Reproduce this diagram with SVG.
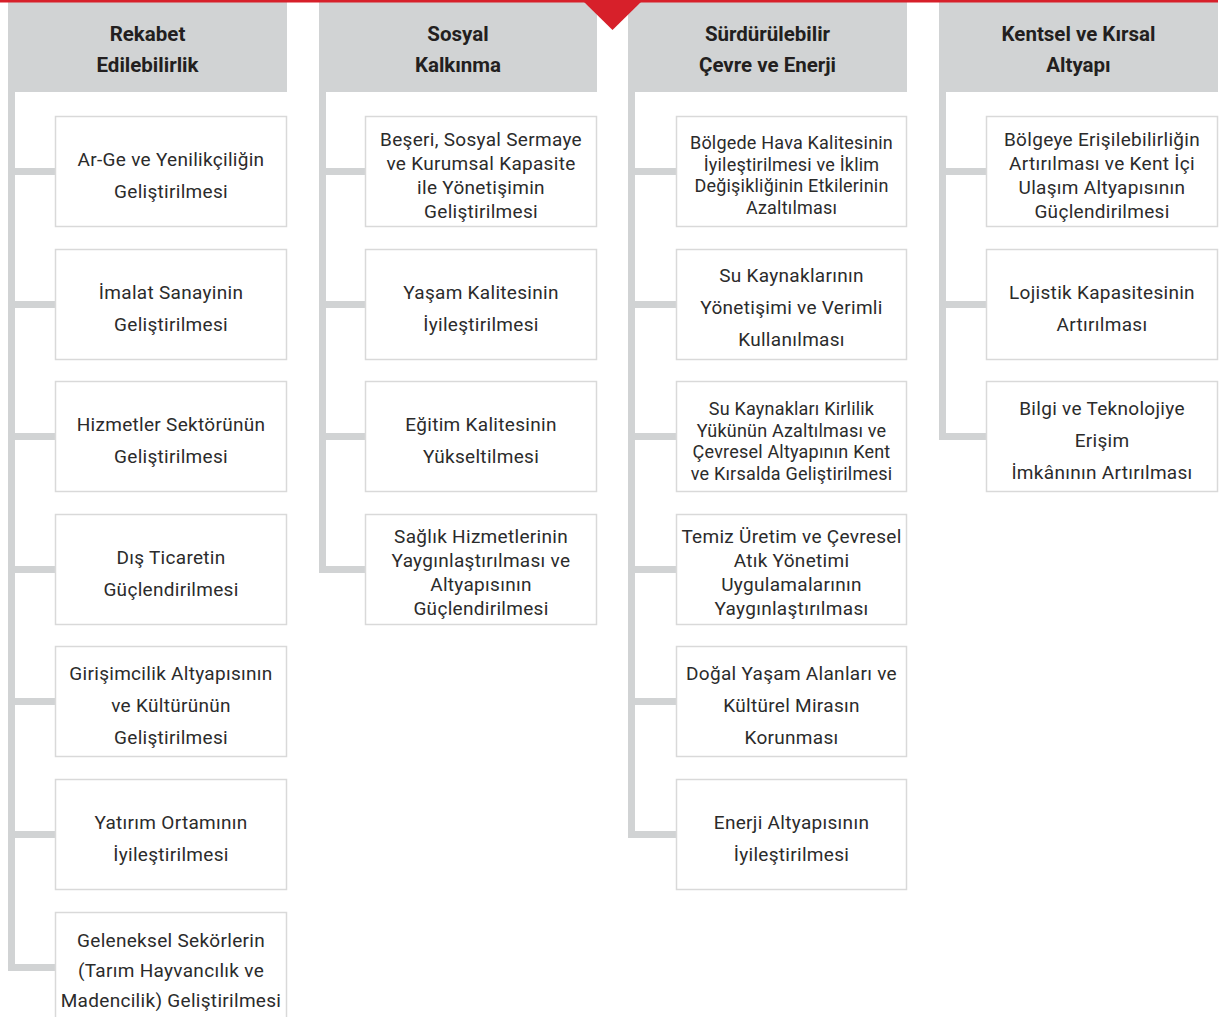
<svg xmlns="http://www.w3.org/2000/svg" width="1229" height="1017" viewBox="0 0 1229 1017">
<style>
.hdr{fill:#d1d3d4}
.bar{fill:#d1d3d4}
.box{fill:#fff;stroke:#d9d9d9;stroke-width:1.5}
.ht{font-family:Roboto,"Liberation Sans",sans-serif;font-weight:700;font-size:20.5px;fill:#231f20;text-anchor:middle}
.t{font-family:Roboto,"Liberation Sans",sans-serif;font-size:19px;fill:#2b2b2b;text-anchor:middle;letter-spacing:0.3px}
.s{font-size:18px;letter-spacing:0.2px}
</style>

<g id="connectors">
<rect class="bar" x="8" y="92" width="7" height="879"/>
<rect class="bar" x="8" y="168" width="47" height="7"/>
<rect class="bar" x="8" y="301" width="47" height="7"/>
<rect class="bar" x="8" y="433" width="47" height="7"/>
<rect class="bar" x="8" y="566" width="47" height="7"/>
<rect class="bar" x="8" y="698" width="47" height="7"/>
<rect class="bar" x="8" y="831" width="47" height="7"/>
<rect class="bar" x="8" y="964" width="47" height="7"/>

<rect class="bar" x="319" y="92" width="7" height="481"/>
<rect class="bar" x="319" y="168" width="46" height="7"/>
<rect class="bar" x="319" y="301" width="46" height="7"/>
<rect class="bar" x="319" y="433" width="46" height="7"/>
<rect class="bar" x="319" y="566" width="46" height="7"/>

<rect class="bar" x="628" y="92" width="7" height="746"/>
<rect class="bar" x="628" y="168" width="48" height="7"/>
<rect class="bar" x="628" y="301" width="48" height="7"/>
<rect class="bar" x="628" y="433" width="48" height="7"/>
<rect class="bar" x="628" y="566" width="48" height="7"/>
<rect class="bar" x="628" y="698" width="48" height="7"/>
<rect class="bar" x="628" y="831" width="48" height="7"/>

<rect class="bar" x="939" y="92" width="7" height="348"/>
<rect class="bar" x="939" y="168" width="47" height="7"/>
<rect class="bar" x="939" y="301" width="47" height="7"/>
<rect class="bar" x="939" y="433" width="47" height="7"/>
</g>

<g id="h1"><rect class="hdr" x="8" y="2" width="279" height="90"/><text class="ht" x="147.5" y="41">Rekabet</text><text class="ht" x="147.5" y="72">Edilebilirlik</text></g>
<g id="h2"><rect class="hdr" x="319" y="2" width="278" height="90"/><text class="ht" x="458" y="41">Sosyal</text><text class="ht" x="458" y="72">Kalkınma</text></g>
<g id="h3"><rect class="hdr" x="628" y="2" width="279" height="90"/><text class="ht" x="767.5" y="41">Sürdürülebilir</text><text class="ht" x="767.5" y="72">Çevre ve Enerji</text></g>
<g id="h4"><rect class="hdr" x="939" y="2" width="279" height="90"/><text class="ht" x="1078.5" y="41">Kentsel ve Kırsal</text><text class="ht" x="1078.5" y="72">Altyapı</text></g>

<rect x="0" y="0" width="1218" height="2.5" fill="#d7202a"/>
<polygon points="583,1 642,1 612.5,30" fill="#d7202a"/>

<!-- column 1 -->
<g id="c1n1"><rect class="box" x="55.5" y="116.5" width="231" height="110"/><text class="t" x="171" y="165.5">Ar-Ge ve Yenilikçiliğin</text><text class="t" x="171" y="197.5">Geliştirilmesi</text></g>
<g id="c1n2"><rect class="box" x="55.5" y="249.5" width="231" height="110"/><text class="t" x="171" y="298.5">İmalat Sanayinin</text><text class="t" x="171" y="330.5">Geliştirilmesi</text></g>
<g id="c1n3"><rect class="box" x="55.5" y="381.5" width="231" height="110"/><text class="t" x="171" y="430.5">Hizmetler Sektörünün</text><text class="t" x="171" y="462.5">Geliştirilmesi</text></g>
<g id="c1n4"><rect class="box" x="55.5" y="514.5" width="231" height="110"/><text class="t" x="171" y="563.5">Dış Ticaretin</text><text class="t" x="171" y="595.5">Güçlendirilmesi</text></g>
<g id="c1n5"><rect class="box" x="55.5" y="646.5" width="231" height="110"/><text class="t" x="171" y="680">Girişimcilik Altyapısının</text><text class="t" x="171" y="712">ve Kültürünün</text><text class="t" x="171" y="744">Geliştirilmesi</text></g>
<g id="c1n6"><rect class="box" x="55.5" y="779.5" width="231" height="110"/><text class="t" x="171" y="828.5">Yatırım Ortamının</text><text class="t" x="171" y="860.5">İyileştirilmesi</text></g>
<g id="c1n7"><rect class="box" x="55.5" y="912.5" width="231" height="120"/><text class="t" x="171" y="947">Geleneksel Sekörlerin</text><text class="t" x="171" y="977">(Tarım Hayvancılık ve</text><text class="t" x="171" y="1007">Madencilik) Geliştirilmesi</text></g>

<!-- column 2 -->
<g id="c2n1"><rect class="box" x="365.5" y="116.5" width="231" height="110"/><text class="t" x="481" y="146">Beşeri, Sosyal Sermaye</text><text class="t" x="481" y="170">ve Kurumsal Kapasite</text><text class="t" x="481" y="194">ile Yönetişimin</text><text class="t" x="481" y="218">Geliştirilmesi</text></g>
<g id="c2n2"><rect class="box" x="365.5" y="249.5" width="231" height="110"/><text class="t" x="481" y="298.5">Yaşam Kalitesinin</text><text class="t" x="481" y="330.5">İyileştirilmesi</text></g>
<g id="c2n3"><rect class="box" x="365.5" y="381.5" width="231" height="110"/><text class="t" x="481" y="430.5">Eğitim Kalitesinin</text><text class="t" x="481" y="462.5">Yükseltilmesi</text></g>
<g id="c2n4"><rect class="box" x="365.5" y="514.5" width="231" height="110"/><text class="t" x="481" y="543">Sağlık Hizmetlerinin</text><text class="t" x="481" y="567">Yaygınlaştırılması ve</text><text class="t" x="481" y="591">Altyapısının</text><text class="t" x="481" y="615">Güçlendirilmesi</text></g>

<!-- column 3 -->
<g id="c3n1"><rect class="box" x="676.5" y="116.5" width="230" height="110"/><text class="t s" x="791.5" y="149">Bölgede Hava Kalitesinin</text><text class="t s" x="791.5" y="170.5">İyileştirilmesi ve İklim</text><text class="t s" x="791.5" y="192">Değişikliğinin Etkilerinin</text><text class="t s" x="791.5" y="213.5">Azaltılması</text></g>
<g id="c3n2"><rect class="box" x="676.5" y="249.5" width="230" height="110"/><text class="t" x="791.5" y="282">Su Kaynaklarının</text><text class="t" x="791.5" y="314">Yönetişimi ve Verimli</text><text class="t" x="791.5" y="346">Kullanılması</text></g>
<g id="c3n3"><rect class="box" x="676.5" y="381.5" width="230" height="110"/><text class="t s" x="791.5" y="415">Su Kaynakları Kirlilik</text><text class="t s" x="791.5" y="436.5">Yükünün Azaltılması ve</text><text class="t s" x="791.5" y="458">Çevresel Altyapının Kent</text><text class="t s" x="791.5" y="479.5">ve Kırsalda Geliştirilmesi</text></g>
<g id="c3n4"><rect class="box" x="676.5" y="514.5" width="230" height="110"/><text class="t" x="791.5" y="543">Temiz Üretim ve Çevresel</text><text class="t" x="791.5" y="567">Atık Yönetimi</text><text class="t" x="791.5" y="591">Uygulamalarının</text><text class="t" x="791.5" y="615">Yaygınlaştırılması</text></g>
<g id="c3n5"><rect class="box" x="676.5" y="646.5" width="230" height="110"/><text class="t" x="791.5" y="680">Doğal Yaşam Alanları ve</text><text class="t" x="791.5" y="712">Kültürel Mirasın</text><text class="t" x="791.5" y="744">Korunması</text></g>
<g id="c3n6"><rect class="box" x="676.5" y="779.5" width="230" height="110"/><text class="t" x="791.5" y="828.5">Enerji Altyapısının</text><text class="t" x="791.5" y="860.5">İyileştirilmesi</text></g>

<!-- column 4 -->
<g id="c4n1"><rect class="box" x="986.5" y="116.5" width="231" height="110"/><text class="t" x="1102" y="146">Bölgeye Erişilebilirliğin</text><text class="t" x="1102" y="170">Artırılması ve Kent İçi</text><text class="t" x="1102" y="194">Ulaşım Altyapısının</text><text class="t" x="1102" y="218">Güçlendirilmesi</text></g>
<g id="c4n2"><rect class="box" x="986.5" y="249.5" width="231" height="110"/><text class="t" x="1102" y="298.5">Lojistik Kapasitesinin</text><text class="t" x="1102" y="330.5">Artırılması</text></g>
<g id="c4n3"><rect class="box" x="986.5" y="381.5" width="231" height="110"/><text class="t" x="1102" y="415">Bilgi ve Teknolojiye</text><text class="t" x="1102" y="447">Erişim</text><text class="t" x="1102" y="479">İmkânının Artırılması</text></g>
</svg>
